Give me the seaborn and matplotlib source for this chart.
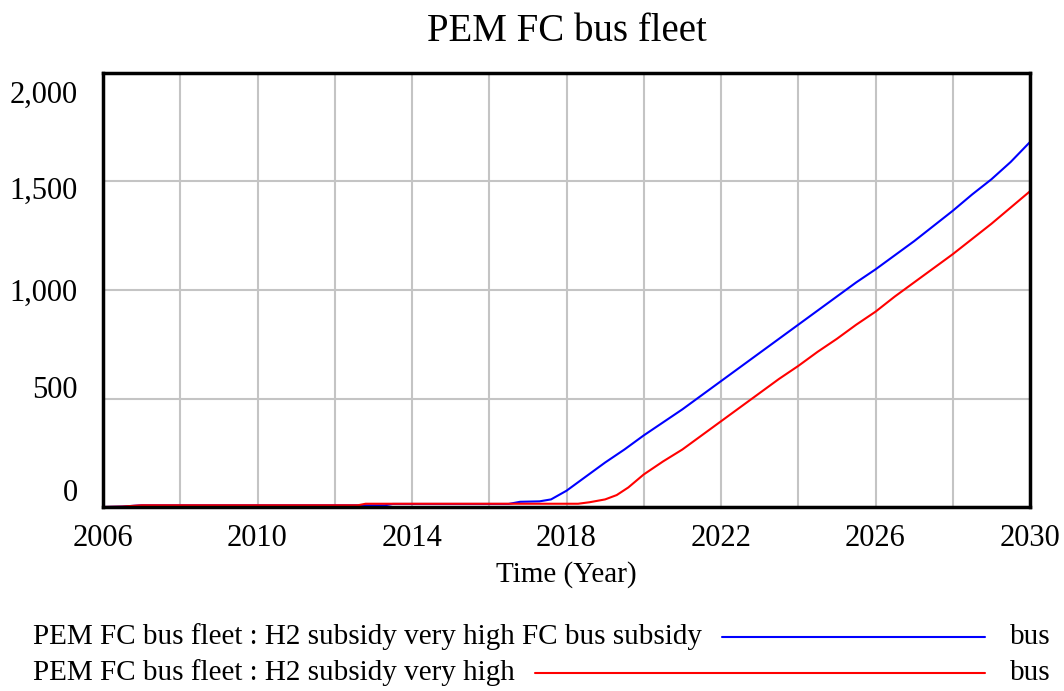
import numpy as np
import pandas as pd
import matplotlib
matplotlib.use("Agg")
import matplotlib.pyplot as plt
from matplotlib.lines import Line2D
from matplotlib.transforms import ScaledTranslation
import seaborn as sns

# ---- data ----
blue_time = [2006, 2006.5, 2007, 2013.3, 2013.5, 2016.5, 2016.8, 2017.3, 2017.6, 2018, 2018.5,
             2019, 2019.5, 2020, 2020.5, 2021, 2021.5, 2022, 2022.5, 2023, 2023.5, 2024, 2024.5,
             2025, 2025.5, 2026, 2026.5, 2027, 2027.5, 2028, 2028.5, 2029, 2029.5, 2030]
blue_vals = [0, 2, 8, 8, 14, 14, 24, 26, 35, 75, 140,
             205, 265, 330, 390, 450, 515, 580, 645, 710, 775, 840, 905,
             970, 1035, 1095, 1160, 1225, 1295, 1365, 1440, 1510, 1590, 1682]

red_time = [2006, 2006.5, 2007, 2012.6, 2012.8, 2018.3, 2018.6, 2019, 2019.3, 2019.6, 2020,
            2020.5, 2021, 2021.5, 2022, 2022.5, 2023, 2023.5, 2024, 2024.5, 2025, 2025.5,
            2026, 2026.5, 2027, 2027.5, 2028, 2028.5, 2029, 2029.5, 2030]
red_vals = [0, 2, 8, 8, 15, 15, 22, 35, 55, 90, 150,
            210, 265, 330, 395, 460, 525, 590, 650, 715, 775, 840,
            900, 970, 1035, 1100, 1165, 1235, 1305, 1380, 1455]

series_names = ["PEM FC bus fleet : H2 subsidy very high FC bus subsidy",
                "PEM FC bus fleet : H2 subsidy very high"]
units = ["bus", "bus"]
colors = ["#0000ff", "#ff0000"]
x_ticks = [2006, 2010, 2014, 2018, 2022, 2026, 2030]
y_ticks = [0, 500, 1000, 1500, 2000]
y_tick_labels = ["0", "500", "1,000", "1,500", "2,000"]

df = pd.concat([
    pd.DataFrame({"Time": blue_time, "Value": blue_vals, "Series": series_names[0]}),
    pd.DataFrame({"Time": red_time, "Value": red_vals, "Series": series_names[1]}),
])

sns.set_theme(style="white")
plt.rcParams["font.family"] = ["Liberation Serif", "DejaVu Serif"]
plt.rcParams["text.color"] = "black"
plt.rcParams["axes.labelcolor"] = "black"

fig = plt.figure(figsize=(10.64, 6.91), dpi=100)
ax = fig.add_axes([103 / 1064, 1 - 507 / 691, (1030 - 103) / 1064, (507 - 73) / 691])

sns.lineplot(data=df, x="Time", y="Value", hue="Series", palette=colors,
             hue_order=series_names, linewidth=1.5, legend=False, ax=ax, sort=False)

ax.set_xlim(2006, 2030)
ax.set_ylim(0, 2000)
grid_x = np.arange(2006, 2031, 2)
ax.set_xticks(grid_x)
ax.set_xticklabels([str(int(t)) if t in x_ticks else "" for t in grid_x])
ax.set_yticks(y_ticks)
ax.set_yticklabels(y_tick_labels)
ax.grid(True, color="#c4c4c4", linewidth=1.5)
ax.tick_params(axis="both", length=0, labelsize=22, labelcolor="black")
ax.tick_params(axis="y", pad=18)
ax.tick_params(axis="x", pad=12)
# Vensim-style label shifts (pixels, positive = down)
y_shift_px = [-17, -11, 0, 6, 19]
for lab, sh in zip(ax.get_yticklabels(), y_shift_px):
    lab.set_transform(lab.get_transform() + ScaledTranslation(0, -sh / 100, fig.dpi_scale_trans))
for s in ax.spines.values():
    s.set_color("black")
    s.set_linewidth(2.5)
ax.set_xlabel("Time (Year)", fontsize=21, labelpad=6, color="black")
ax.set_ylabel("")
ax.set_title("PEM FC bus fleet", fontsize=28, pad=23, color="black")

# Vensim-style legend below
rows_y = [1 - 637 / 691, 1 - 673 / 691]
line_starts = [722 / 1064, 535 / 1064]
for i in range(2):
    fig.text(33 / 1064, rows_y[i], series_names[i], fontsize=21, va="center", ha="left")
    fig.add_artist(Line2D([line_starts[i], 985 / 1064], [rows_y[i], rows_y[i]],
                          transform=fig.transFigure, color=colors[i], linewidth=1.5))
    fig.text(1010 / 1064, rows_y[i], units[i], fontsize=21, va="center", ha="left")

fig.savefig("out.png", dpi=100)
